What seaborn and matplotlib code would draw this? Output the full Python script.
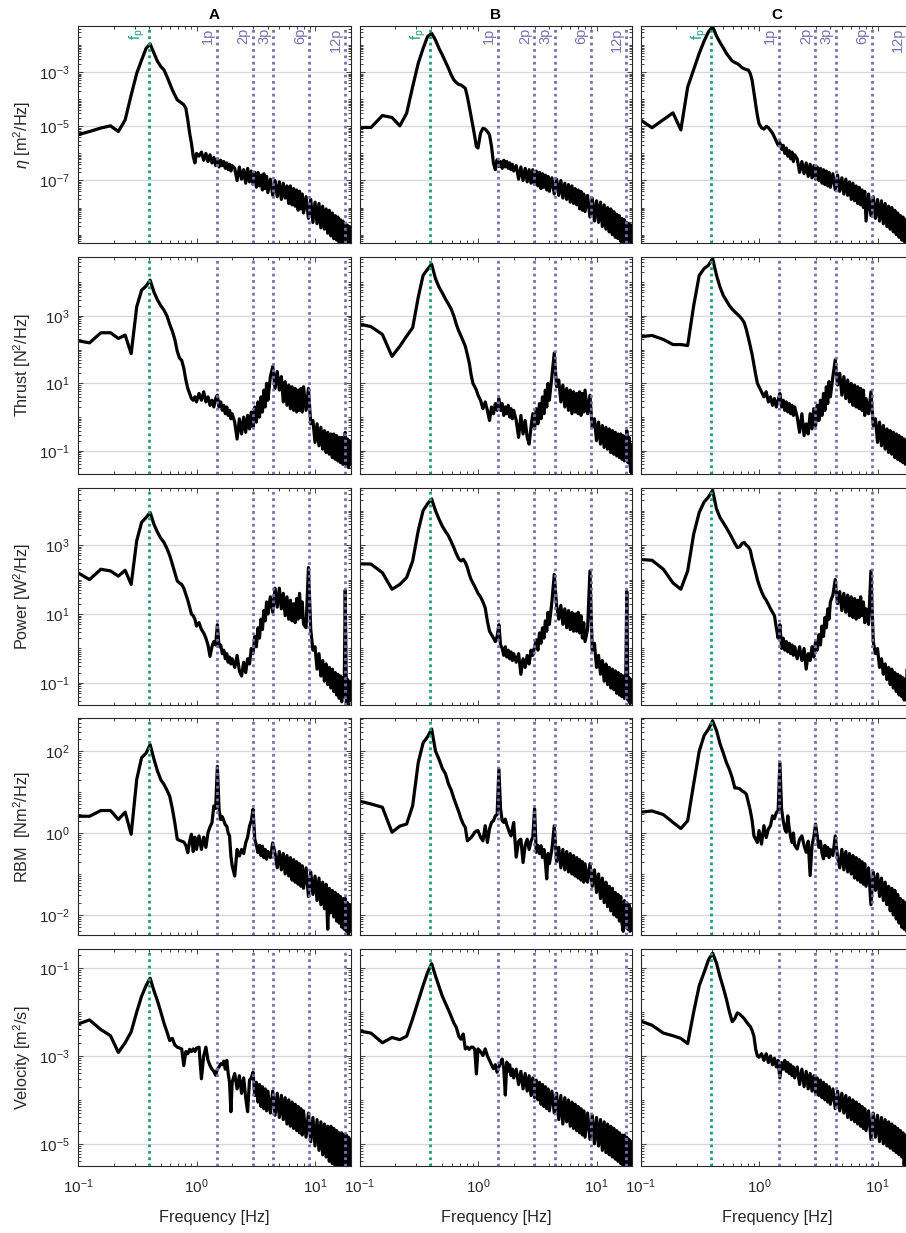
import numpy as np
import pandas as pd
import matplotlib
matplotlib.use("Agg")
import matplotlib.pyplot as plt
import matplotlib.ticker as mticker
import seaborn as sns

# frequency bins [Hz]
FREQ = [0.094, 0.125, 0.156, 0.188, 0.219, 0.25, 0.281, 0.313, 0.344, 0.375,
        0.406, 0.438, 0.469, 0.5, 0.531, 0.563, 0.594, 0.625, 0.656, 0.688,
        0.719, 0.75, 0.781, 0.813, 0.844, 0.875, 0.906, 0.938, 0.969, 1.0,
        1.05, 1.1, 1.15, 1.2, 1.25, 1.3, 1.35, 1.4, 1.45, 1.5,
        1.55, 1.6, 1.65, 1.7, 1.75, 1.8, 1.85, 1.9, 1.95, 2.0,
        2.1, 2.2, 2.3, 2.4, 2.5, 2.6, 2.7, 2.8, 2.9, 3.0,
        3.1, 3.2, 3.3, 3.4, 3.5, 3.6, 3.7, 3.8, 3.9, 4.0,
        4.2, 4.4, 4.6, 4.8, 5.0, 5.2, 5.4, 5.6, 5.8, 6.0,
        6.2, 6.4, 6.6, 6.8, 7.0, 7.2, 7.4, 7.6, 7.8, 8.0,
        8.4, 8.8, 9.2, 9.6, 10.0, 10.4, 10.8, 11.2, 11.6, 12.0,
        12.4, 12.8, 13.2, 13.6, 14.0, 14.4, 14.8, 15.2, 15.6, 16.0,
        16.4, 16.8, 17.2, 17.6, 18.0, 18.4, 18.8, 19.2, 19.6, 20.0]

# spectra, log10 values
ETA_A = [-5.34, -5.19, -5.06, -4.98, -5.19, -4.76, -3.84, -3.04, -2.55, -2.12, -1.95, -2.3, -2.6, -2.79, -2.91,
         -3.16, -3.41, -3.65, -3.84, -4.02, -4.08, -4.14, -4.2, -4.33, -4.76, -5.25, -5.62, -6.11, -6.35, -6.0,
         -6.1, -5.95, -6.25, -6.0, -6.3, -6.05, -6.35, -6.15, -6.45, -6.2, -6.5, -6.25, -6.45, -6.3, -6.55, -6.35, -6.6, -6.4, -6.65, -6.45,
         -6.55, -7.0, -6.5, -6.95, -6.6, -7.1, -6.55, -7.05, -6.65, -7.15, -6.7, -7.25, -6.7, -7.2, -6.8, -7.35, -6.75, -7.3, -6.85, -7.45,
         -6.95, -7.55, -7.0, -7.6, -7.05, -7.7, -7.1, -7.65, -7.2, -7.85, -7.2, -7.9, -7.3, -7.95, -7.35, -8.1, -7.4, -8.05, -7.5, -8.2,
         -7.6, -8.4, -7.7, -8.55, -7.8, -8.6, -7.85, -8.75, -7.95, -8.8, -8.05, -8.95, -8.1, -9.05, -8.2,
         -9.15, -8.3, -9.2, -8.35, -9.3, -8.45, -9.35, -8.5, -9.4, -8.6, -9.4, -8.65, -9.45, -8.7, -9.4]
ETA_B = [-5.04, -5.04, -4.6, -4.67, -4.98, -4.51, -3.53, -2.67, -2.12, -1.68, -1.56, -1.81, -2.12, -2.36, -2.61,
         -2.85, -3.1, -3.28, -3.38, -3.45, -3.47, -3.53, -3.59, -3.9, -4.27, -4.64, -5.0, -5.37, -5.74, -5.8,
         -5.25, -5.07, -5.1, -5.19, -5.31, -5.74, -6.36, -6.6, -6.23, -6.48, -6.3, -6.55, -6.25, -6.5, -6.3, -6.55, -6.35, -6.6, -6.4, -6.65,
         -6.45, -6.95, -6.5, -7.0, -6.55, -7.05, -6.6, -7.1, -6.6, -7.15, -6.65, -7.2, -6.7, -7.3, -6.75, -7.25, -6.8, -7.35, -6.85, -7.4,
         -6.9, -7.5, -6.95, -7.55, -7.0, -7.65, -7.1, -7.7, -7.15, -7.8, -7.2, -7.85, -7.3, -7.9, -7.35, -8.05, -7.4, -8.1, -7.5, -8.15,
         -7.55, -8.35, -7.65, -8.5, -7.75, -8.55, -7.8, -8.7, -7.9, -8.8, -8.0, -8.9, -8.05, -9.0, -8.15,
         -9.1, -8.25, -9.15, -8.3, -9.25, -8.4, -9.35, -8.45, -9.4, -8.55, -9.4, -8.6, -9.45, -8.65, -9.4]
ETA_C = [-4.68, -5.05, -4.75, -4.5, -5.13, -3.55, -2.9, -2.3, -1.85, -1.5, -1.31, -1.66, -1.9, -2.1, -2.3,
         -2.45, -2.58, -2.64, -2.68, -2.75, -2.83, -2.87, -2.9, -2.92, -3.05, -3.3, -3.75, -4.2, -4.6, -4.9,
         -5.05, -5.1, -5.0, -5.05, -5.15, -5.25, -5.4, -5.55, -5.7, -5.6, -5.85, -5.7, -6.0, -5.8, -6.1, -5.9, -6.2, -5.95, -6.3, -6.05,
         -6.2, -6.7, -6.3, -6.75, -6.35, -6.85, -6.4, -6.9, -6.45, -6.95, -6.5, -7.0, -6.55, -7.1, -6.6, -7.15, -6.65, -7.2, -6.7, -7.25,
         -6.75, -7.35, -6.8, -7.4, -6.9, -7.5, -6.95, -7.55, -7.05, -7.7, -7.1, -7.75, -7.2, -7.85, -7.25, -7.9, -7.35, -8.0, -7.4, -8.5,
         -7.5, -8.3, -7.6, -8.4, -7.7, -8.5, -7.75, -8.6, -7.85, -8.7, -7.95, -8.8, -8.0, -8.9, -8.1,
         -9.0, -8.2, -9.1, -8.3, -9.2, -8.35, -9.25, -8.45, -9.3, -8.5, -9.35, -8.55, -9.4, -8.6, -9.35]

THRUST_A = [2.28, 2.2, 2.5, 2.5, 2.33, 2.43, 1.88, 3.27, 3.76, 3.88, 4.06, 3.7, 3.47, 3.3, 3.17,
            3.0, 2.75, 2.55, 2.3, 1.95, 1.75, 1.68, 1.45, 1.1, 0.85, 0.7, 0.55, 0.5, 0.6, 0.45,
            0.7, 0.5, 0.75, 0.45, 0.6, 0.35, 0.5, 0.3, 0.55, 0.65, 0.3, 0.45, 0.2, 0.35, 0.1, 0.3, 0.05, 0.2, -0.05, 0.1,
            -0.15, -0.65, -0.05, -0.5, 0.0, -0.45, 0.05, -0.35, 0.15, -0.3, 0.3, -0.15, 0.45, 0.0, 0.6, 0.15, 0.8, 0.3, 1.0, 0.5,
            1.2, 1.5, 0.85, 1.35, 0.8, 1.2, 0.45, 1.05, 0.35, 0.95, 0.25, 0.9, 0.2, 0.85, 0.15, 0.8, 0.2, 0.85, 0.15, 0.9,
            0.2, 0.85, -0.2, -0.1, -0.75, -0.2, -0.85, -0.3, -0.95, -0.4, -1.05, -0.45, -1.1, -0.5, -1.2,
            -0.5, -1.25, -0.55, -1.3, -0.6, -1.35, -0.6, -1.4, -1.2, -0.45, -1.45, -0.65, -1.5, -0.7, -1.4]
THRUST_B = [2.78, 2.68, 2.45, 1.8, 2.1, 2.4, 2.65, 3.55, 4.2, 4.38, 4.53, 4.1, 3.85, 3.68, 3.5,
            3.35, 3.2, 3.0, 2.75, 2.55, 2.4, 2.25, 2.1, 1.85, 1.6, 1.25, 1.0, 0.9, 0.8, 0.65,
            0.5, 0.25, 0.45, 0.2, -0.1, 0.3, 0.1, 0.4, 0.2, 0.55, 0.2, 0.4, 0.05, 0.3, 0.1, 0.35, 0.0, 0.25, -0.05, 0.2,
            -0.1, -0.6, 0.05, -0.5, -0.1, -0.6, -0.8, -0.3, 0.1, -0.35, 0.25, -0.2, 0.4, -0.05, 0.6, 0.1, 0.8, 0.3, 1.0, 0.5,
            1.2, 1.9, 0.9, 1.1, 0.45, 0.95, 0.3, 0.85, 0.2, 0.8, 0.1, 0.75, 0.15, 0.7, 0.1, 0.75, 0.05, 0.7, 0.15, 0.8,
            0.1, 0.65, -0.3, -0.05, -0.7, -0.15, -0.8, -0.25, -0.9, -0.3, -0.95, -0.35, -1.05, -0.4, -1.1,
            -0.45, -1.15, -0.5, -1.2, -0.5, -1.25, -0.55, -1.3, -1.2, -0.4, -1.35, -0.6, -1.45, -1.65, -0.8]
THRUST_C = [2.37, 2.42, 2.3, 2.15, 2.15, 2.12, 3.3, 4.2, 4.4, 4.5, 4.7, 4.2, 3.85, 3.6, 3.45,
            3.3, 3.2, 3.12, 3.05, 2.98, 2.9, 2.8, 2.6, 2.35, 2.1, 1.85, 1.55, 1.25, 1.0, 0.9,
            0.75, 0.6, 0.75, 0.45, 0.6, 0.35, 0.55, 0.3, 0.5, 0.7, 0.3, 0.5, 0.2, 0.45, 0.15, 0.4, 0.1, 0.35, 0.05, 0.3,
            0.0, -0.45, 0.1, -0.55, -0.2, -0.5, 0.1, -0.35, 0.25, -0.25, 0.35, -0.1, 0.5, 0.05, 0.7, 0.2, 0.9, 0.4, 1.05, 0.6,
            1.2, 1.7, 0.95, 1.3, 0.65, 1.2, 0.55, 1.1, 0.45, 1.0, 0.35, 0.95, 0.3, 0.9, 0.25, 0.85, 0.2, 0.8, 0.05, 0.55,
            0.1, 0.75, -0.25, -0.05, -0.75, -0.15, -0.85, -0.25, -0.95, -0.35, -1.05, -0.4, -1.1, -0.45, -1.2,
            -0.5, -1.25, -0.55, -1.3, -0.6, -1.35, -0.65, -1.4, -0.7, -1.4, -0.75, -1.45, -0.8, -1.5, -0.85]

POWER_A = [2.25, 2.0, 2.3, 2.25, 2.1, 2.27, 1.86, 3.13, 3.66, 3.8, 3.95, 3.6, 3.37, 3.2, 3.08,
           2.9, 2.7, 2.45, 2.2, 1.96, 1.9, 1.86, 1.75, 1.57, 1.4, 1.2, 1.0, 0.95, 0.85, 0.65,
           0.75, 0.55, 0.45, 0.3, 0.1, -0.23, 0.05, 0.2, 0.1, 0.69, 0.05, 0.1, -0.15, -0.05, -0.3, -0.15, -0.4, -0.25, -0.45, -0.3,
           -0.55, -0.2, -0.65, -0.8, -0.4, -0.7, -0.3, -0.45, 0.0, -0.15, 0.35, 0.05, 0.6, 0.3, 0.85, 0.55, 1.1, 0.8, 1.35, 1.0,
           1.5, 1.05, 1.75, 1.2, 1.75, 1.15, 1.6, 0.95, 1.5, 0.85, 1.4, 0.8, 1.3, 0.75, 1.45, 0.85, 1.6, 0.9, 1.35, 0.7,
           0.6, 2.35, 0.55, -0.05, 0.05, -0.6, -0.15, -0.8, -0.35, -0.95, -0.45, -1.05, -0.55, -1.15, -0.6,
           -1.25, -0.7, -1.35, -0.75, -1.45, -0.8, -1.55, -0.85, -1.4, 1.7, -1.6, -0.9, -1.7, -0.95, -1.5]
POWER_B = [2.46, 2.45, 2.2, 1.72, 1.86, 2.06, 2.54, 3.42, 4.0, 4.2, 4.34, 4.0, 3.75, 3.55, 3.4,
           3.27, 3.1, 2.93, 2.75, 2.6, 2.54, 2.59, 2.5, 2.35, 2.15, 2.0, 1.9, 1.8, 1.7, 1.6,
           1.5, 1.35, 1.18, 0.79, 0.5, 0.4, 0.3, 0.2, 0.35, 0.69, 0.1, 0.0, -0.2, 0.05, -0.25, -0.05, -0.3, -0.1, -0.35, -0.15,
           -0.4, -0.15, -0.75, -0.3, -0.55, -0.2, -0.45, -0.05, -0.2, 0.05, 0.25, -0.05, 0.45, 0.15, 0.6, 0.3, 0.8, 0.5, 1.05, 0.7,
           1.35, 2.15, 1.25, 0.85, 1.25, 0.7, 1.15, 0.6, 1.1, 0.55, 1.05, 0.5, 1.0, 0.5, 1.05, 0.45, 0.95, 0.3, 0.75, 0.2,
           0.55, 2.25, -0.05, 0.15, -0.55, -0.2, -0.75, -0.35, -0.95, -0.45, -1.05, -0.55, -1.15, -0.6, -1.2,
           -0.65, -1.3, -0.7, -1.35, -0.75, -1.4, -0.8, -1.45, -1.3, 1.65, -1.5, -0.85, -1.6, -0.9, -1.5]
POWER_C = [2.59, 2.56, 2.3, 1.9, 1.72, 2.25, 3.32, 3.95, 4.25, 4.4, 4.59, 4.05, 3.8, 3.65, 3.5,
           3.35, 3.2, 3.05, 2.93, 2.95, 3.05, 3.08, 3.0, 2.95, 2.85, 2.6, 2.4, 2.2, 2.0, 1.85,
           1.65, 1.5, 1.4, 1.28, 1.15, 1.05, 0.95, 0.6, 0.3, 0.69, 0.0, 0.3, -0.05, 0.2, -0.1, 0.15, -0.15, 0.1, -0.2, 0.05,
           -0.3, 0.05, -0.35, 0.0, -0.6, -0.15, -0.35, 0.05, -0.25, 0.2, -0.05, 0.4, 0.1, 0.65, 0.35, 0.9, 0.6, 1.15, 0.85, 1.35,
           1.55, 2.0, 1.3, 1.65, 1.1, 1.6, 1.05, 1.55, 0.95, 1.5, 0.9, 1.45, 0.85, 1.4, 0.9, 1.5, 0.95, 1.35, 0.75, 1.15,
           0.7, 2.25, 0.2, -0.15, 0.0, -0.55, -0.3, -0.75, -0.45, -0.9, -0.55, -1.05, -0.6, -1.15, -0.7,
           -1.25, -0.75, -1.35, -0.8, -1.4, -0.85, -1.5, -0.9, -1.5, 1.2, -1.55, -0.95, -1.6, -1.0, -1.5]

RBM_A = [0.41, 0.41, 0.55, 0.55, 0.33, 0.51, -0.03, 1.31, 1.84, 1.95, 2.16, 1.8, 1.51, 1.3, 1.19,
         1.05, 0.9, 0.6, 0.25, -0.15, -0.18, -0.2, -0.22, -0.3, -0.48, -0.2, -0.03, -0.45, -0.1, -0.4,
         -0.07, -0.4, -0.1, -0.35, 0.01, 0.15, 0.25, 0.66, 0.6, 1.63, 0.58, 0.33, 0.4, 0.3, 0.2, 0.17, 0.0, -0.07, -0.56, -0.8,
         -1.05, -0.4, -0.56, -0.4, -0.5, -0.24, -0.1, 0.17, 0.3, 0.58, -0.15, -0.3, -0.48, -0.3, -0.55, -0.32, -0.6, -0.4, -0.64, -0.45,
         -0.6, -0.24, -0.5, -0.85, -0.45, -0.9, -0.5, -1.0, -0.55, -1.05, -0.6, -1.15, -0.65, -1.2, -0.7, -1.25, -0.75, -1.3, -0.8, -1.35,
         -0.85, -1.55, -0.95, -1.5, -1.05, -1.65, -1.1, -1.75, -1.2, -1.85, -1.25, -2.35, -1.35, -1.95, -1.4,
         -2.05, -1.45, -2.15, -1.5, -2.2, -1.55, -2.3, -1.6, -2.35, -1.6, -2.4, -1.7, -2.5, -1.75, -2.4]
RBM_B = [0.8, 0.71, 0.63, 0.02, 0.17, 0.22, 0.67, 1.72, 2.2, 2.35, 2.54, 2.0, 1.8, 1.58, 1.45,
         1.2, 1.05, 0.85, 0.68, 0.52, 0.35, 0.22, 0.14, -0.19, -0.15, -0.11, -0.05, 0.02, 0.05, 0.06,
         -0.1, -0.19, 0.18, -0.23, 0.1, 0.26, 0.3, 0.42, 0.45, 1.56, 0.59, 0.3, 0.26, 0.34, 0.2, 0.1, 0.0, -0.07, 0.1, 0.26,
         -0.59, -0.2, -0.15, -0.72, -0.3, -0.15, -0.4, -0.2, -0.1, 0.59, -0.47, -0.3, -0.5, -0.31, -0.6, -0.4, -0.7, -1.12, -0.5, -0.75,
         -0.4, 0.18, -0.7, -0.35, -0.85, -0.4, -0.9, -0.45, -0.95, -0.5, -1.0, -0.55, -1.05, -0.6, -1.1, -0.65, -1.15, -0.7, -1.2, -0.75,
         -1.2, -0.75, -1.3, -0.9, -1.45, -1.0, -1.6, -1.1, -1.7, -1.2, -1.8, -1.3, -1.9, -1.35, -2.0,
         -1.45, -2.05, -1.5, -2.15, -1.55, -2.2, -2.4, -1.65, -2.3, -1.7, -2.35, -1.75, -2.4, -1.85, -2.3]
RBM_C = [0.5, 0.54, 0.45, 0.26, 0.11, 0.3, 1.2, 2.0, 2.38, 2.54, 2.74, 2.5, 2.18, 1.95, 1.72,
         1.55, 1.35, 1.1, 1.1, 1.08, 1.03, 1.0, 0.95, 0.75, 0.55, 0.3, -0.07, -0.15, -0.23, 0.06,
         -0.27, 0.18, -0.11, 0.1, 0.18, 0.42, 0.35, 0.5, 0.55, 1.72, 0.59, 0.3, 0.1, 0.02, 0.42, 0.1, -0.1, -0.23, 0.0, -0.3,
         -0.39, -0.15, -0.07, -0.3, -0.47, -0.2, -1.04, -0.3, -0.1, 0.22, -0.07, -0.35, -0.2, -0.5, -0.63, -0.3, -0.55, -0.35, -0.6, -0.4,
         -0.55, -0.07, -0.6, -0.85, -0.4, -0.9, -0.45, -0.95, -0.5, -1.0, -0.55, -1.1, -0.6, -1.15, -0.65, -1.2, -0.7, -1.25, -0.75, -1.3,
         -0.85, -1.75, -0.95, -1.4, -1.0, -1.55, -1.1, -1.65, -1.2, -1.75, -1.3, -1.9, -1.35, -2.0, -1.4,
         -2.1, -1.5, -2.2, -1.6, -2.3, -1.65, -2.35, -1.7, -2.4, -1.75, -2.45, -1.8, -2.5, -1.85, -2.4]

VEL_A = [-2.3, -2.18, -2.4, -2.54, -2.92, -2.7, -2.45, -2.0, -1.64, -1.4, -1.23, -1.52, -1.75, -2.0, -2.25,
         -2.45, -2.65, -2.6, -2.75, -2.8, -2.82, -2.84, -3.22, -2.9, -2.95, -2.85, -2.9, -2.84, -2.9, -2.82,
         -2.8, -3.52, -3.0, -2.8, -3.1, -3.22, -3.3, -3.35, -3.44, -3.3, -3.25, -3.18, -3.2, -3.12, -3.3, -3.1, -3.4, -3.6, -4.27, -3.6,
         -3.4, -3.75, -3.45, -3.85, -3.5, -3.95, -4.27, -3.55, -3.5, -3.37, -3.9, -3.6, -4.05, -3.65, -4.15, -3.7, -4.2, -3.75, -4.25, -3.8,
         -4.3, -3.8, -4.35, -3.85, -4.4, -3.9, -4.45, -3.95, -4.55, -4.0, -4.6, -4.05, -4.65, -4.1, -4.7, -4.15, -4.75, -4.2, -4.8, -4.25,
         -4.85, -4.3, -4.95, -4.4, -5.05, -4.45, -5.15, -4.5, -5.25, -4.55, -5.3, -4.6, -5.4, -4.6, -5.45,
         -4.65, -5.5, -4.7, -5.55, -4.75, -5.6, -4.75, -5.6, -4.8, -5.55, -4.8, -5.6, -4.85, -5.55, -4.9]
VEL_B = [-2.42, -2.48, -2.7, -2.58, -2.63, -2.55, -2.15, -1.75, -1.4, -1.1, -0.9, -1.18, -1.42, -1.64, -1.8,
         -1.95, -2.1, -2.25, -2.35, -2.55, -2.62, -2.5, -2.84, -2.8, -2.85, -2.8, -2.8, -2.85, -3.41, -2.84,
         -2.9, -2.99, -2.84, -3.0, -3.1, -3.2, -3.29, -3.2, -3.37, -3.25, -3.15, -3.07, -3.3, -3.89, -3.14, -3.35, -3.2, -3.45, -3.3, -3.5,
         -3.3, -3.65, -3.35, -3.75, -3.4, -3.8, -3.45, -3.9, -3.5, -3.95, -3.55, -4.0, -3.6, -4.1, -3.65, -4.15, -3.7, -4.2, -3.75, -4.25,
         -3.8, -4.3, -3.85, -4.45, -3.9, -4.55, -3.95, -4.5, -4.0, -4.6, -4.05, -4.65, -4.1, -4.7, -4.15, -4.75, -4.2, -4.8, -4.25, -4.85,
         -4.3, -4.9, -4.35, -5.0, -4.4, -5.05, -4.45, -5.15, -4.5, -5.2, -4.55, -5.25, -4.6, -5.3, -4.65,
         -5.35, -4.7, -5.4, -4.75, -5.45, -4.8, -5.5, -4.8, -5.55, -4.85, -5.6, -4.9, -5.6, -4.95, -5.55]
VEL_C = [-2.18, -2.3, -2.48, -2.54, -2.6, -2.72, -2.0, -1.4, -1.1, -0.81, -0.66, -0.89, -1.2, -1.45, -1.71,
         -2.0, -2.22, -2.15, -2.02, -2.05, -2.1, -2.15, -2.22, -2.28, -2.33, -2.42, -2.55, -2.85, -3.0, -3.03,
         -2.95, -3.1, -2.95, -3.15, -3.0, -3.2, -3.05, -3.25, -3.1, -3.5, -3.15, -3.3, -3.1, -3.35, -3.15, -3.4, -3.2, -3.45, -3.25, -3.5,
         -3.25, -3.65, -3.3, -3.7, -3.35, -3.75, -3.4, -3.8, -3.45, -3.85, -3.5, -3.9, -3.55, -3.95, -3.6, -4.0, -3.65, -4.05, -3.7, -4.1,
         -3.75, -4.2, -3.8, -4.25, -3.85, -4.3, -3.9, -4.4, -3.95, -4.45, -4.0, -4.5, -4.05, -4.55, -4.1, -4.6, -4.15, -4.65, -4.2, -4.7,
         -4.25, -4.9, -4.3, -4.85, -4.35, -4.95, -4.4, -5.0, -4.45, -5.05, -4.5, -5.1, -4.55, -5.15, -4.6,
         -5.2, -4.65, -5.25, -4.7, -5.3, -4.75, -5.5, -4.8, -5.35, -4.85, -5.4, -4.9, -5.45, -4.95, -5.45]

SPECTRA = [[ETA_A, ETA_B, ETA_C],
           [THRUST_A, THRUST_B, THRUST_C],
           [POWER_A, POWER_B, POWER_C],
           [RBM_A, RBM_B, RBM_C],
           [VEL_A, VEL_B, VEL_C]]

COL_TITLES = ["A", "B", "C"]
ROW_LABELS = [r"$\it{\eta}$ [m$^2$/Hz]", "Thrust [N$^2$/Hz]", "Power [W$^2$/Hz]",
              "RBM  [Nm$^2$/Hz]", "Velocity [m$^2$/s]"]
YLIM_LOG = [(-9.31, -1.29), (-1.68, 4.75), (-1.63, 4.67), (-2.5, 2.8), (-5.51, -0.57)]
YMAJOR_LOG = [[-7, -5, -3], [-1, 1, 3], [-1, 1, 3], [-2, 0, 2], [-5, -3, -1]]

F_PEAK = 0.397
F_ROTOR = 1.485
HARMONICS = [1, 2, 3, 6, 12]
HARM_LABELS = ["1p", "2p", "3p", "6p", "12p"]
GREEN = "#1b9e77"
PURPLE = "#7570b3"

sns.set_theme(style="ticks")
plt.rcParams.update({
    "font.family": ["Liberation Sans", "DejaVu Sans"],
    "font.size": 11,
    "mathtext.fontset": "custom",
    "mathtext.rm": "Liberation Sans",
    "mathtext.it": "Liberation Sans:italic",
    "mathtext.bf": "Liberation Sans:bold",
    "axes.unicode_minus": False,
    "axes.edgecolor": "#262626",
    "axes.linewidth": 0.8,
    "axes.labelcolor": "#262626",
    "xtick.color": "#262626",
    "ytick.color": "#262626",
    "text.color": "#262626",
})

W, H = 906, 1233
LEFTS = [78, 359.5, 640.5]
TOPS = [26, 256.8, 487.6, 718.4, 949.2]
AW, AH = 272.7, 217

fig = plt.figure(figsize=(W / 100, H / 100), dpi=100)

for r in range(5):
    for c in range(3):
        ax = fig.add_axes([LEFTS[c] / W, 1 - (TOPS[r] + AH) / H, AW / W, AH / H])
        df = pd.DataFrame({"f": FREQ, "psd": 10 ** np.array(SPECTRA[r][c])})
        sns.lineplot(data=df, x="f", y="psd", ax=ax, color="black", lw=2.3,
                     estimator=None, sort=False, zorder=2)
        ax.set_xscale("log")
        ax.set_yscale("log")
        ax.set_xlim(0.1, 20)
        ax.set_ylim(10 ** YLIM_LOG[r][0], 10 ** YLIM_LOG[r][1])

        ax.axvline(F_PEAK, color=GREEN, lw=2.0, ls=(0, (1, 1.3)), zorder=3)
        for h in HARMONICS:
            ax.axvline(h * F_ROTOR, color=PURPLE, lw=2.0, ls=(0, (1, 1.3)), zorder=3)

        if r == 0:
            ax.annotate("f$_\\mathrm{p}$", xy=(F_PEAK, 1), xycoords=("data", "axes fraction"),
                        xytext=(-1.5, -1.5), textcoords="offset points", rotation=90,
                        ha="right", va="top", color=GREEN, fontsize=10.5)
            for h, lab in zip(HARMONICS, HARM_LABELS):
                ax.annotate(lab, xy=(h * F_ROTOR, 1), xycoords=("data", "axes fraction"),
                            xytext=(-1.5, -1.5), textcoords="offset points", rotation=90,
                            ha="right", va="top", color=PURPLE, fontsize=10.5)
            ax.set_title(COL_TITLES[c], fontsize=11, fontweight="bold", color="black", pad=5)

        ax.xaxis.set_major_locator(mticker.FixedLocator([0.1, 1, 10]))
        ax.xaxis.set_major_formatter(mticker.LogFormatterSciNotation())
        ax.xaxis.set_minor_locator(mticker.LogLocator(base=10, subs=np.arange(1, 10), numticks=100))
        ax.xaxis.set_minor_formatter(mticker.NullFormatter())
        ax.yaxis.set_major_locator(mticker.FixedLocator([10.0 ** k for k in YMAJOR_LOG[r]]))
        ax.yaxis.set_major_formatter(mticker.LogFormatterSciNotation())
        ax.yaxis.set_minor_locator(mticker.LogLocator(base=10, subs=np.arange(1, 10), numticks=100))
        ax.yaxis.set_minor_formatter(mticker.NullFormatter())

        ax.tick_params(which="both", direction="in", top=True, right=True, width=0.6,
                       labelsize=11)
        ax.tick_params(which="major", length=3.5)
        ax.tick_params(which="minor", length=2)
        ax.tick_params(axis="x", pad=8)
        ax.tick_params(axis="y", pad=6)

        ax.grid(False)
        ax.yaxis.grid(True, which="major", color="#d6d6d6", lw=0.9)
        ax.set_axisbelow(True)

        if c == 0:
            ax.set_ylabel(ROW_LABELS[r], fontsize=11.7)
            ax.yaxis.set_label_coords(-0.165, 0.5)
        else:
            ax.set_ylabel("")
            ax.tick_params(labelleft=False)
        if r == 4:
            ax.set_xlabel("Frequency [Hz]", fontsize=11.7)
            ax.xaxis.set_label_coords(0.5, -0.2)
        else:
            ax.set_xlabel("")
            ax.tick_params(labelbottom=False)

fig.savefig("out.png", dpi=100)
